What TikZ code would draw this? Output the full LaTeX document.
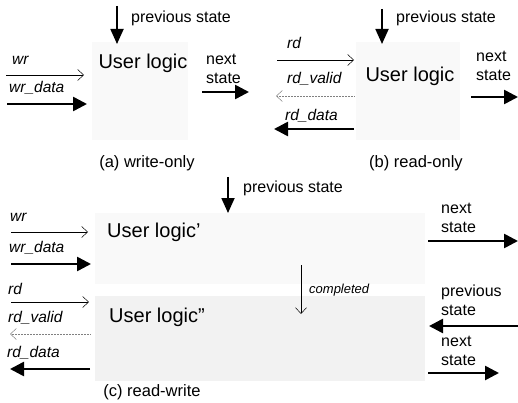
\documentclass[tikz,border=0pt]{standalone}
\usepackage{fontspec}
\setmainfont{Liberation Sans}
\usepackage{tikz}
\usetikzlibrary{arrows.meta, positioning}

\begin{document}
\begin{tikzpicture}[
    x=1pt, y=-1pt,
    area/.style={rectangle, fill=gray!5, draw=none, inner sep=0pt},
    darkarea/.style={area, fill=gray!10},
    logic/.style={font=\fontsize{20}{22}\selectfont, inner sep=0pt},
    lbl/.style={font=\fontsize{16}{19}\selectfont, align=left, inner sep=0pt, anchor=west},
    caption/.style={font=\fontsize{16.5}{19}\selectfont, inner sep=0pt},
    sig/.style={font=\fontsize{15.5}{18}\selectfont\itshape, inner sep=0pt, anchor=west},
    small/.style={font=\fontsize{13}{15}\selectfont\itshape, inner sep=0pt, anchor=west},
    thinarr/.style={-{Straight Barb[length=6pt,width=11pt]}, line width=0.5pt},
    dotarr/.style={thinarr, densely dotted, gray},
    busarr/.style={-{Triangle[length=14pt,width=14pt]}, line width=2.6pt},
    statearr/.style={-{Triangle[length=15pt,width=13pt]}, line width=1.8pt}
]
\useasboundingbox (0,0) rectangle (518,403);

% (a) write-only
\node[area, minimum width=96pt, minimum height=98pt] (boxA) at (140,91) {};
\node[logic] (ulA) at (143,63) {User logic};
\coordinate (pA0) at (117,6);
\coordinate (pA1) at (117,44);
\draw[statearr] (pA0) -- (pA1);
\node[lbl] (pAl) at (131,18) {previous state};
\node[sig] (wrAl) at (12,60) {wr};
\coordinate (wrA0) at (6,75);
\coordinate (wrA1) at (84,75);
\draw[thinarr] (wrA0) -- (wrA1);
\node[sig] (wdAl) at (9,88) {wr\_data};
\coordinate (wdA0) at (7,104);
\coordinate (wdA1) at (87,104);
\draw[busarr] (wdA0) -- (wdA1);
\node[lbl] (nAl) at (206,69) {next\\state};
\coordinate (nA0) at (202,92);
\coordinate (nA1) at (249,92);
\draw[busarr] (nA0) -- (nA1);
\node[caption] (capA) at (147,163) {(a) write-only};

% (b) read-only
\node[area, minimum width=104pt, minimum height=98pt] (boxB) at (408,91) {};
\node[logic] (ulB) at (410,76) {User logic};
\coordinate (pB0) at (382,9);
\coordinate (pB1) at (382,44);
\draw[statearr] (pB0) -- (pB1);
\node[lbl] (pBl) at (396,18) {previous state};
\node[sig] (rdBl) at (287,43) {rd};
\coordinate (rdB0) at (277,60);
\coordinate (rdB1) at (354,60);
\draw[thinarr] (rdB0) -- (rdB1);
\node[sig] (rvBl) at (287,79) {rd\_valid};
\coordinate (rvB0) at (354,96);
\coordinate (rvB1) at (276,96);
\draw[dotarr] (rvB0) -- (rvB1);
\node[sig] (rtBl) at (285,116) {rd\_data};
\coordinate (rtB0) at (354,129);
\coordinate (rtB1) at (274,129);
\draw[busarr] (rtB0) -- (rtB1);
\node[lbl] (nBl) at (476,66) {next\\state};
\coordinate (nB0) at (471,97);
\coordinate (nB1) at (518,97);
\draw[busarr] (nB0) -- (nB1);
\node[caption] (capB) at (416,163) {(b) read-only};

% (c) read-write
\node[area, minimum width=330pt, minimum height=71pt] (boxC1) at (260,248) {};
\node[darkarea, minimum width=330pt, minimum height=85pt] (boxC2) at (260,338) {};
\node[logic, anchor=west] (ulC1) at (107,232) {User logic’};
\node[logic, anchor=west] (ulC2) at (109,317) {User logic”};
\coordinate (pC0) at (228,177);
\coordinate (pC1) at (228,213);
\draw[statearr] (pC0) -- (pC1);
\node[lbl] (pCl) at (243,188) {previous state};
% inputs / outputs on the left
\node[sig] (wrCl) at (10,217) {wr};
\coordinate (wrC0) at (11,232);
\coordinate (wrC1) at (88,232);
\draw[thinarr] (wrC0) -- (wrC1);
\node[sig] (wdCl) at (9,248) {wr\_data};
\coordinate (wdC0) at (11,264);
\coordinate (wdC1) at (91,264);
\draw[busarr] (wdC0) -- (wdC1);
\node[sig] (rdCl) at (8,289) {rd};
\coordinate (rdC0) at (11,302);
\coordinate (rdC1) at (89,302);
\draw[thinarr] (rdC0) -- (rdC1);
\node[sig] (rvCl) at (8,318) {rd\_valid};
\coordinate (rvC0) at (90,334);
\coordinate (rvC1) at (10,334);
\draw[dotarr] (rvC0) -- (rvC1);
\node[sig] (rtCl) at (7,353) {rd\_data};
\coordinate (rtC0) at (90,369);
\coordinate (rtC1) at (10,369);
\draw[busarr] (rtC0) -- (rtC1);
% completed
\coordinate (cC0) at (301,265);
\coordinate (cC1) at (301,314);
\draw[thinarr] (cC0) -- (cC1);
\node[small] (cCl) at (309,290) {completed};
% states on the right
\node[lbl] (nC1l) at (441,218) {next\\state};
\coordinate (nC10) at (428,241);
\coordinate (nC11) at (518,241);
\draw[busarr] (nC10) -- (nC11);
\node[lbl] (pC2l) at (441,300) {previous\\state};
\coordinate (pC20) at (518,326);
\coordinate (pC21) at (429,326);
\draw[busarr] (pC20) -- (pC21);
\node[lbl] (nC2l) at (441,351) {next\\state};
\coordinate (nC20) at (428,373);
\coordinate (nC21) at (499,373);
\draw[busarr] (nC20) -- (nC21);
\node[caption] (capC) at (152,392) {(c) read-write};

\end{tikzpicture}
\end{document}
